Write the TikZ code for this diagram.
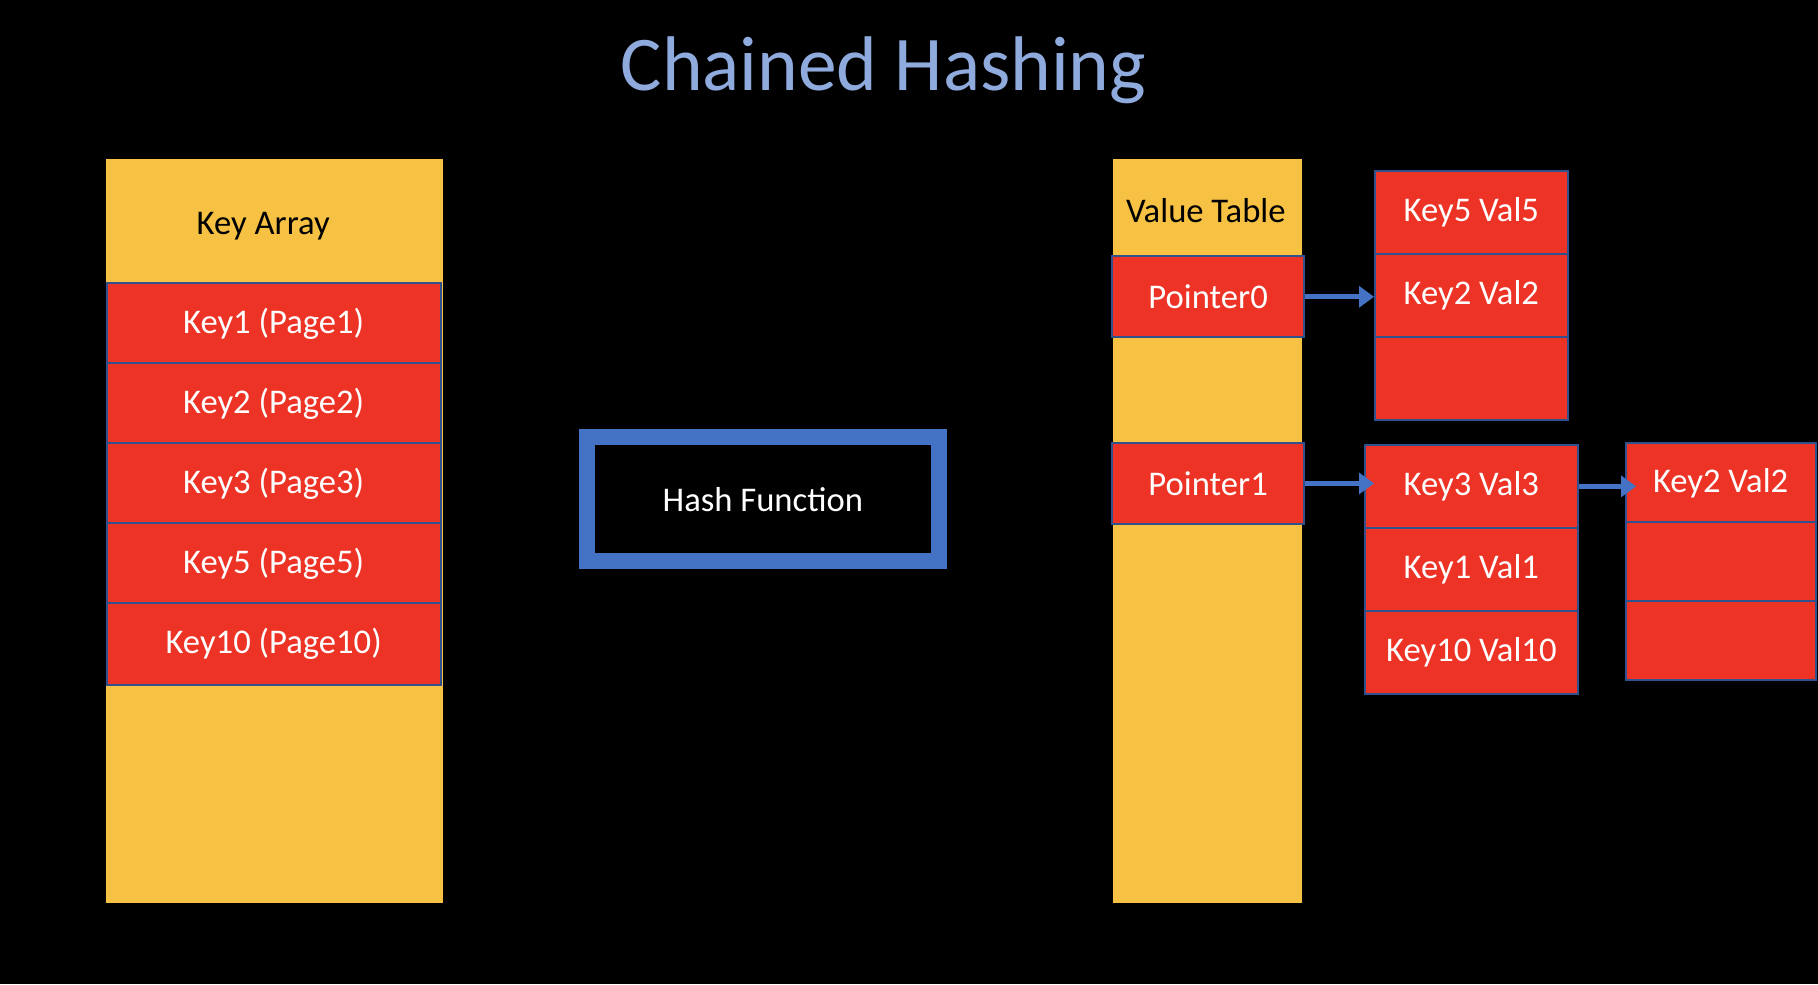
\documentclass[tikz,border=0pt]{standalone}
\usepackage{fontspec}
\setmainfont{Carlito}
\usepackage{xcolor}
\usetikzlibrary{arrows.meta}

\definecolor{colyellow}{RGB}{247,194,68}
\definecolor{cellred}{RGB}{236,51,37}
\definecolor{cellline}{RGB}{47,82,143}
\definecolor{hashblue}{RGB}{68,114,196}
\definecolor{titleblue}{RGB}{143,170,220}

\tikzset{
    column/.style={rectangle, fill=colyellow, inner sep=0pt, minimum width=#1, minimum height=6.42cm},
    cell/.style={rectangle, draw=cellline, line width=0.5pt, fill=cellred, text=white, inner sep=0pt,
        minimum width=#1, minimum height=0.7cm, font=\fontsize{8.5}{10}\selectfont},
    label/.style={font=\fontsize{8.5}{10}\selectfont},
    link/.style={draw=hashblue, line width=1.2pt, -{Triangle[length=0.13cm,width=0.18cm]}}
}

\begin{document}
\begin{tikzpicture}
    % Background
    \fill[black] (0,0) rectangle (15.68,8.49);
    \node[anchor=base, text=titleblue, font=\fontsize{19}{22}\selectfont] (title) at (7.62,7.71) {Chained Hashing};

    % Key array
    \node[column=2.91cm] (keyarray) at (2.365,3.91) {};
    \node[label] (keyhead) at (2.27,6.54) {Key Array};
    \node[cell=2.88cm] (key1) at (2.36,5.695) {Key1 (Page1)};
    \node[cell=2.88cm] (key2) at (2.36,5.005) {Key2 (Page2)};
    \node[cell=2.88cm] (key3) at (2.36,4.315) {Key3 (Page3)};
    \node[cell=2.88cm] (key5) at (2.36,3.625) {Key5 (Page5)};
    \node[cell=2.88cm] (key10) at (2.36,2.935) {Key10 (Page10)};

    % Hash function
    \node[rectangle, draw=hashblue, line width=4pt, fill=black, text=white, inner sep=0pt,
        minimum width=3.04cm, minimum height=1.07cm, label] (hash) at (6.58,4.185) {Hash Function};

    % Value table
    \node[column=1.63cm] (valtable) at (10.415,3.91) {};
    \node[label] (valhead) at (10.40,6.67) {Value Table};
    \node[cell=1.66cm] (ptr0) at (10.42,5.93) {Pointer0};
    \node[cell=1.66cm] (ptr1) at (10.42,4.32) {Pointer1};

    % Chain of pointer 0
    \node[cell=1.66cm, minimum height=0.715cm] (c0a) at (12.69,6.655) {Key5 Val5};
    \node[cell=1.66cm, minimum height=0.715cm] (c0b) at (12.69,5.94) {Key2 Val2};
    \node[cell=1.66cm, minimum height=0.715cm] (c0c) at (12.69,5.225) {};

    % Chain of pointer 1
    \node[cell=1.84cm, minimum height=0.715cm] (c1a) at (12.69,4.295) {Key3 Val3};
    \node[cell=1.84cm, minimum height=0.715cm] (c1b) at (12.69,3.58) {Key1 Val1};
    \node[cell=1.84cm, minimum height=0.715cm] (c1c) at (12.69,2.865) {Key10 Val10};

    % Overflow chain
    \node[cell=1.64cm, minimum height=0.68cm] (c2a) at (14.84,4.325) {Key2 Val2};
    \node[cell=1.64cm, minimum height=0.68cm] (c2b) at (14.84,3.645) {};
    \node[cell=1.64cm, minimum height=0.68cm] (c2c) at (14.84,2.965) {};

    % Links
    \draw[link] (ptr0.east) -- (ptr0.east -| c0b.west);
    \draw[link, shorten >=-0.09cm] (ptr1.east) -- (ptr1.east -| c1a.west);
    \draw[link, shorten >=-0.1cm] (c1a.east) -- (c1a.east -| c2a.west);
\end{tikzpicture}
\end{document}
